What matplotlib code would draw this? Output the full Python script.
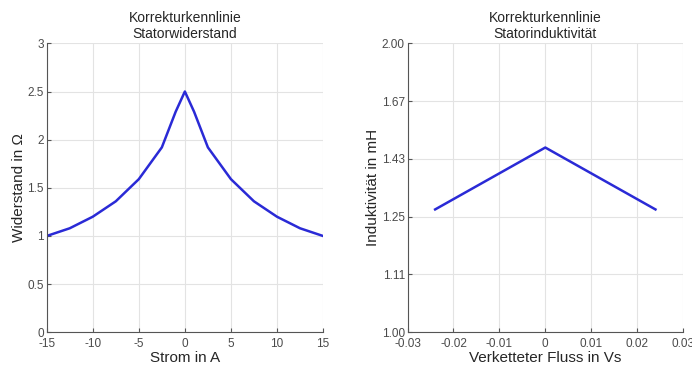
import numpy as np
import matplotlib
matplotlib.use('Agg')
import matplotlib.pyplot as plt

plt.rcParams['font.family'] = ['Liberation Sans', 'DejaVu Sans']
plt.rcParams['axes.unicode_minus'] = False

# Statorwiderstand
strom = [-15, -12.5, -10, -7.5, -5, -2.5, -1, 0, 1, 2.5, 5, 7.5, 10, 12.5, 15]
widerstand = [1.0, 1.08, 1.2, 1.36, 1.59, 1.92, 2.29, 2.5, 2.29, 1.92, 1.59, 1.36, 1.2, 1.08, 1.0]

# Statorinduktivitaet
fluss = [-0.024, 0.0, 0.024]
induktivitaet = [1.27, 1.47, 1.27]
l_ticks = [1.00, 1.11, 1.25, 1.43, 1.67, 2.00]

line_col = '#2a2ad6'
axis_col = '#555555'
tick_col = '#4a4a4a'
txt_col = '#262626'


def style(ax):
    ax.grid(True, color='#e3e3e3', lw=0.8)
    ax.set_axisbelow(True)
    for s in ['top', 'right']:
        ax.spines[s].set_visible(False)
    for s in ['left', 'bottom']:
        ax.spines[s].set_color(axis_col)
        ax.spines[s].set_linewidth(0.8)
    ax.tick_params(direction='in', length=3, width=0.8, colors=axis_col,
                   labelcolor=tick_col, labelsize=8.5)
    ax.tick_params(axis='x', pad=4)
    ax.tick_params(axis='y', pad=2)


fig = plt.figure(figsize=(6.92, 3.69), dpi=100)

ax1 = fig.add_axes([0.0675, 0.0995, 0.3993, 0.783])
ax1.plot(strom, widerstand, color=line_col, lw=1.8)
ax1.set_xlim(-15, 15)
ax1.set_ylim(0, 3)
ax1.set_xticks([-15, -10, -5, 0, 5, 10, 15])
ax1.set_yticks([0, 0.5, 1, 1.5, 2, 2.5, 3])
ax1.set_yticklabels(['0', '0.5', '1', '1.5', '2', '2.5', '3'])
style(ax1)
ax1.set_xlabel('Strom in A', fontsize=11, color=txt_col, labelpad=1)
ax1.set_ylabel('Widerstand in Ω', fontsize=11, color=txt_col, labelpad=1)
ax1.set_title('Korrekturkennlinie\nStatorwiderstand', fontsize=10, color=txt_col, pad=4)

ax2 = fig.add_axes([0.589, 0.0995, 0.398, 0.783])
ax2.set_yscale('function', functions=(lambda v: -1.0 / v, lambda u: -1.0 / u))
ax2.plot(fluss, induktivitaet, color=line_col, lw=1.8)
ax2.set_xlim(-0.03, 0.03)
ax2.set_ylim(1.0, 2.0)
ax2.set_xticks([-0.03, -0.02, -0.01, 0, 0.01, 0.02, 0.03])
ax2.set_xticklabels(['-0.03', '-0.02', '-0.01', '0', '0.01', '0.02', '0.03'])
ax2.set_yticks([1 / 1.0, 1 / 0.9, 1 / 0.8, 1 / 0.7, 1 / 0.6, 1 / 0.5])
ax2.set_yticklabels(['%.2f' % t for t in l_ticks])
ax2.minorticks_off()
style(ax2)
ax2.set_xlabel('Verketteter Fluss in Vs', fontsize=11, color=txt_col, labelpad=1)
ax2.set_ylabel('Induktivität in mH', fontsize=11, color=txt_col, labelpad=1)
ax2.set_title('Korrekturkennlinie\nStatorinduktivität', fontsize=10, color=txt_col, pad=4)

plt.savefig('out.png', dpi=100)
